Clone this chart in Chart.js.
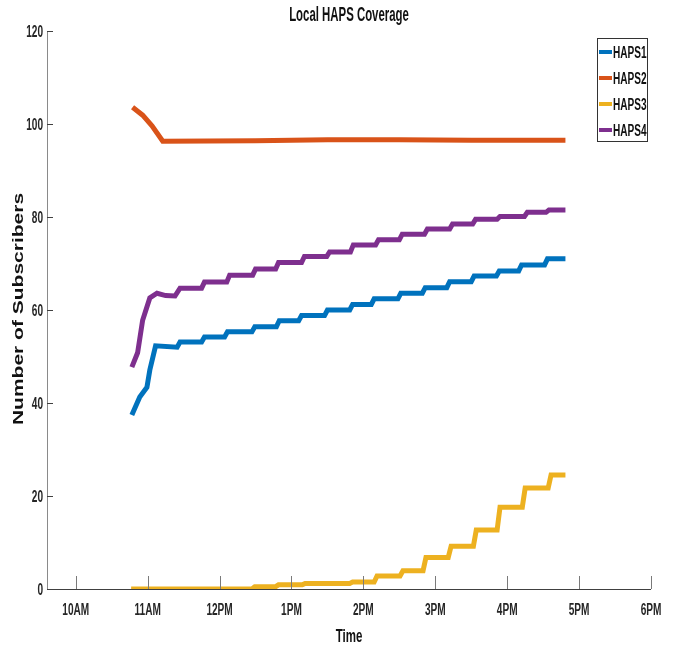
<!DOCTYPE html>
<html>
<head>
<meta charset="utf-8">
<title>Local HAPS Coverage</title>
<script src="https://cdn.jsdelivr.net/npm/chart.js@4.4.1/dist/chart.umd.min.js"></script>
<style>
  html, body { margin: 0; padding: 0; background: #fff; }
  canvas { display: block; }
</style>
</head>
<body>
<canvas id="coverage" width="675" height="647"></canvas>
<script>
// time of day in hours, number of subscribers
const haps1 = [
  [10.78, 37.4], [10.89, 41.3], [10.99, 43.4], [11.03, 47.1], [11.11, 52.3],
  [11.41, 52.0], [11.45, 53.1], [11.75, 53.1], [11.79, 54.2], [12.07, 54.2],
  [12.11, 55.3], [12.45, 55.3], [12.49, 56.4], [12.79, 56.4], [12.83, 57.7],
  [13.10, 57.7], [13.14, 58.8], [13.46, 58.8], [13.50, 60.0], [13.81, 60.0],
  [13.85, 61.2], [14.11, 61.2], [14.15, 62.4], [14.48, 62.4], [14.52, 63.6],
  [14.82, 63.6], [14.86, 64.8], [15.16, 64.8], [15.20, 66.1], [15.50, 66.1],
  [15.54, 67.3], [15.85, 67.3], [15.89, 68.4], [16.16, 68.4], [16.20, 69.7],
  [16.52, 69.7], [16.56, 71.0], [16.81, 71.0]
];
const haps2 = [
  [10.79, 103.6], [10.93, 101.9], [11.06, 99.6], [11.21, 96.3], [12.50, 96.4],
  [13.50, 96.6], [14.50, 96.6], [15.50, 96.5], [16.81, 96.5]
];
const haps3 = [
  [10.77, 0], [12.45, 0], [12.49, 0.5], [12.78, 0.5], [12.82, 0.9],
  [13.15, 0.9], [13.19, 1.2], [13.81, 1.2], [13.85, 1.5], [14.15, 1.5],
  [14.19, 2.8], [14.51, 2.8], [14.55, 3.9], [14.83, 3.9], [14.87, 6.8],
  [15.18, 6.8], [15.22, 9.2], [15.53, 9.2], [15.57, 12.7], [15.86, 12.7],
  [15.90, 17.6], [16.21, 17.6], [16.25, 21.7], [16.57, 21.7], [16.61, 24.5],
  [16.81, 24.5]
];
const haps4 = [
  [10.78, 47.7], [10.86, 50.8], [10.93, 57.8], [11.03, 62.6], [11.13, 63.6],
  [11.25, 63.1], [11.38, 63.0], [11.45, 64.7], [11.75, 64.7], [11.79, 66.0],
  [12.10, 66.0], [12.14, 67.5], [12.46, 67.5], [12.50, 68.8], [12.78, 68.8],
  [12.82, 70.2], [13.14, 70.2], [13.18, 71.5], [13.49, 71.5], [13.53, 72.5],
  [13.82, 72.5], [13.86, 74.0], [14.17, 74.0], [14.21, 75.1], [14.50, 75.1],
  [14.54, 76.3], [14.85, 76.3], [14.89, 77.4], [15.20, 77.4], [15.24, 78.5],
  [15.52, 78.5], [15.56, 79.5], [15.86, 79.5], [15.90, 80.1], [16.24, 80.1],
  [16.28, 81.0], [16.54, 81.0], [16.58, 81.5], [16.81, 81.5]
];

const seriesNames = ['HAPS1', 'HAPS2', 'HAPS3', 'HAPS4'];
const seriesColors = ['#0072BD', '#D95319', '#EDB120', '#7E2F8E'];
const hourTicks = [10, 11, 12, 13, 14, 15, 16, 17, 18];
const hourLabels = ['10AM', '11AM', '12PM', '1PM', '2PM', '3PM', '4PM', '5PM', '6PM'];
const yTickValues = [0, 20, 40, 60, 80, 100, 120];

const FONT = '"Liberation Sans", Arial, sans-serif';

// text in the figure is drawn narrow
function narrowText(ctx, text, x, y, size, squeeze, align, weight) {
  ctx.save();
  ctx.font = (weight || 'bold') + ' ' + size + 'px ' + FONT;
  ctx.translate(x, y);
  ctx.scale(squeeze, 1);
  ctx.textAlign = align;
  ctx.textBaseline = 'alphabetic';
  ctx.fillText(text, 0, 0);
  ctx.restore();
}

const matlabAxes = {
  id: 'matlabAxes',
  afterDraw(chart) {
    const ctx = chart.ctx;
    const area = chart.chartArea;
    const xs = chart.scales.x;
    const ys = chart.scales.y;

    ctx.save();
    // axis lines
    ctx.lineWidth = 1;
    ctx.strokeStyle = '#8a8a8a';
    ctx.beginPath();
    ctx.moveTo(area.left + 0.5, area.top);
    ctx.lineTo(area.left + 0.5, area.bottom);
    ctx.stroke();
    ctx.strokeStyle = '#404040';
    ctx.beginPath();
    ctx.moveTo(area.left, area.bottom + 0.5);
    ctx.lineTo(area.right, area.bottom + 0.5);
    ctx.stroke();

    // inward tick marks
    ctx.strokeStyle = '#7a7a7a';
    xs.ticks.forEach(t => {
      const px = Math.round(xs.getPixelForValue(t.value)) + 0.5;
      ctx.beginPath();
      ctx.moveTo(px, area.bottom);
      ctx.lineTo(px, area.bottom - 13);
      ctx.stroke();
    });
    ctx.strokeStyle = '#404040';
    ys.ticks.forEach(t => {
      const py = Math.round(ys.getPixelForValue(t.value)) + 0.5;
      ctx.beginPath();
      ctx.moveTo(area.left, py);
      ctx.lineTo(area.left + 6, py);
      ctx.stroke();
    });

    // tick labels
    ctx.fillStyle = '#262626';
    xs.ticks.forEach(t => {
      const i = hourTicks.indexOf(t.value);
      narrowText(ctx, hourLabels[i], xs.getPixelForValue(t.value), 615, 16, 0.63, 'center');
    });
    ys.ticks.forEach(t => {
      narrowText(ctx, String(t.value), 43, ys.getPixelForValue(t.value) + 6, 16, 0.63, 'right');
    });

    // title and axis titles
    ctx.fillStyle = '#111';
    narrowText(ctx, 'Local HAPS Coverage', (area.left + area.right) / 2, 21, 20, 0.57, 'center');
    narrowText(ctx, 'Time', (area.left + area.right) / 2, 642, 18, 0.64, 'center');

    ctx.save();
    ctx.font = 'bold 21px ' + FONT;
    ctx.translate(19, 309);
    ctx.rotate(-Math.PI / 2);
    ctx.scale(1, 0.7);
    ctx.textAlign = 'center';
    ctx.textBaseline = 'middle';
    ctx.fillText('Number of Subscribers', 0, 0);
    ctx.restore();

    // legend box
    const lx = 597, ly = 38, lw = 50, lh = 103;
    ctx.fillStyle = '#fff';
    ctx.fillRect(lx, ly, lw, lh);
    ctx.strokeStyle = '#333';
    ctx.lineWidth = 1;
    ctx.strokeRect(lx + 0.5, ly + 0.5, lw, lh);
    chart.data.datasets.forEach((ds, i) => {
      const cy = 52 + i * 26;
      ctx.strokeStyle = ds.borderColor;
      ctx.lineWidth = 4;
      ctx.beginPath();
      ctx.moveTo(599, cy);
      ctx.lineTo(612, cy);
      ctx.stroke();
      ctx.fillStyle = '#111';
      narrowText(ctx, ds.label, 613, cy + 6, 16, 0.63, 'left');
    });
    ctx.restore();
  }
};

const datasets = [haps1, haps2, haps3, haps4].map((series, i) => ({
  label: seriesNames[i],
  data: series.map(([t, v]) => ({ x: t, y: v })),
  borderColor: seriesColors[i],
  backgroundColor: seriesColors[i],
  borderWidth: 5,
  pointRadius: 0,
  tension: 0,
  fill: false
}));

new Chart(document.getElementById('coverage'), {
  type: 'line',
  data: { datasets },
  options: {
    responsive: false,
    animation: false,
    devicePixelRatio: 1,
    layout: { padding: { top: 31, right: 24, left: 0, bottom: 0 } },
    plugins: {
      legend: { display: false },
      title: { display: false },
      tooltip: { enabled: false }
    },
    scales: {
      x: {
        type: 'linear',
        min: 9.6,
        max: 18,
        afterBuildTicks(scale) { scale.ticks = hourTicks.map(v => ({ value: v })); },
        ticks: { display: false },
        grid: { display: false },
        border: { display: false },
        afterFit(scale) { scale.height = 58; }
      },
      y: {
        min: 0,
        max: 120,
        afterBuildTicks(scale) { scale.ticks = yTickValues.map(v => ({ value: v })); },
        ticks: { display: false },
        grid: { display: false },
        border: { display: false },
        afterFit(scale) { scale.width = 47; }
      }
    }
  },
  plugins: [matlabAxes]
});
</script>
</body>
</html>
